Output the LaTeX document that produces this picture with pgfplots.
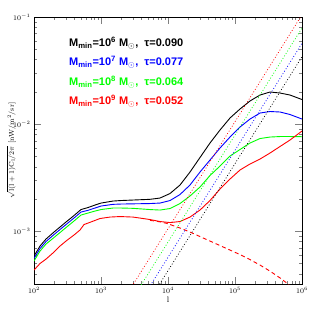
\documentclass[border=0pt]{standalone}
\usepackage{pgfplots}
\pgfplotsset{compat=1.18}
\usepackage{fontspec}
\newfontfamily\legfont{Liberation Sans}
\begin{document}
\begin{tikzpicture}
\begin{axis}[
 at={(0,0)}, anchor=south west,
 scale only axis, width=268pt, height=267pt,
 xmode=log, ymode=log,
 xmin=100, xmax=1e6, ymin=3.2e-4, ymax=0.1,
 xtick={1e2,1e3,1e4,1e5,1e6},
 ytick={1e-4,1e-3,1e-2,1e-1},
 xtick pos=both, ytick pos=both,
 tick align=inside,
 major tick length=7pt, minor tick length=3.5pt,
 tick label style={font=\scriptsize},
 xlabel={$\mathrm{l}$}, ylabel={$\sqrt{\vphantom{l}\smash{\mathrm{l(l+1)C_l/2\pi}}}$ [nW/m$^2$/sr]},
 label style={font=\footnotesize},
 ylabel style={at={(axis description cs:-0.068,0.5)}, anchor=south, font=\scriptsize, inner sep=0pt},
 xlabel style={at={(axis description cs:0.5,-0.035)}, anchor=north},
 every axis plot/.append style={line width=0.9pt},
]
% black
\addplot[black] coordinates {(100,5.84e-4)(122.9,7.24e-4)(151.1,8.42e-4)(198.9,9.79e-4)(244.4,1.090e-3)(300.3,1.214e-3)(395.4,1.396e-3)(502.9,1.588e-3)(639.7,1.658e-3)(813.8,1.750e-3)(1000,1.826e-3)(1510.7,1.907e-3)(1989,1.928e-3)(3003,1.949e-3)(5386,1.979e-3)(7596,2.034e-3)(10712,2.241e-3)(15107,2.691e-3)(21300,3.559e-3)(30035,4.863e-3)(42356,6.644e-3)(59730,8.787e-3)(84230,1.138e-2)(118740,1.381e-2)(167490,1.641e-2)(236160,1.866e-2)(333020,1.991e-2)(469560,1.949e-2)(662100,1.866e-2)(1e6,1.694e-2)};
% blue
\addplot[blue] coordinates {(100,5.53e-4)(122.9,6.86e-4)(151.1,7.98e-4)(198.9,9.27e-4)(244.4,1.033e-3)(300.3,1.150e-3)(395.4,1.323e-3)(502.9,1.505e-3)(639.7,1.561e-3)(813.8,1.641e-3)(1000,1.713e-3)(1510.7,1.776e-3)(1989,1.788e-3)(3003,1.796e-3)(5386,1.807e-3)(7596,1.826e-3)(10712,1.928e-3)(15107,2.194e-3)(21300,2.691e-3)(30035,3.559e-3)(42356,4.608e-3)(59730,5.968e-3)(84230,7.557e-3)(118740,9.376e-3)(167490,1.113e-2)(236160,1.267e-2)(333020,1.309e-2)(469560,1.295e-2)(662100,1.227e-2)(1e6,1.113e-2)};
% green
\addplot[green] coordinates {(100,5.24e-4)(122.9,6.50e-4)(151.1,7.56e-4)(198.9,8.70e-4)(244.4,9.68e-4)(300.3,1.078e-3)(395.4,1.240e-3)(502.9,1.411e-3)(639.7,1.473e-3)(813.8,1.538e-3)(1000,1.588e-3)(1510.7,1.641e-3)(1989,1.641e-3)(3003,1.630e-3)(5386,1.588e-3)(7596,1.571e-3)(10712,1.623e-3)(15107,1.807e-3)(21300,2.124e-3)(30035,2.578e-3)(42356,3.302e-3)(59730,4.050e-3)(84230,5.022e-3)(118740,5.777e-3)(167490,6.644e-3)(236160,7.318e-3)(333020,7.557e-3)(469560,7.640e-3)(662100,7.640e-3)(1e6,7.61e-3)};
% red
\addplot[red] coordinates {(100,4.32e-4)(122.9,4.97e-4)(151.1,5.47e-4)(198.9,6.36e-4)(244.4,7.24e-4)(300.3,8.06e-4)(395.4,9.18e-4)(485.9,1.022e-3)(557.6,1.150e-3)(685.1,1.206e-3)(966.3,1.309e-3)(1362.7,1.351e-3)(1921,1.366e-3)(3003,1.351e-3)(5386,1.281e-3)(7596,1.227e-3)(10712,1.200e-3)(15107,1.227e-3)(21300,1.351e-3)(30035,1.571e-3)(42356,1.928e-3)(59730,2.469e-3)(84230,3.062e-3)(118740,3.717e-3)(167490,4.229e-3)(236160,4.709e-3)(333020,5.358e-3)(469560,6.163e-3)(662100,7.088e-3)(1e6,8.602e-3)};
% red dashed
\addplot[red, dash pattern=on 4pt off 3pt] coordinates {(5386,1.259e-3)(7596,1.219e-3)(9563,1.180e-3)(15107,1.067e-3)(21300,9.79e-4)(30035,8.88e-4)(42356,8.06e-4)(59730,7.32e-4)(84230,6.64e-4)(118740,6.03e-4)(167490,5.41e-4)(236160,4.81e-4)(333020,4.22e-4)(469560,3.65e-4)(639700,3.15e-4)};
% dotted shot-noise lines
\addplot[red, dotted, line width=0.7pt] coordinates {(2000,2.10e-4)(1e6,0.105)};
\addplot[green, dotted, line width=0.7pt] coordinates {(2000,1.578e-4)(1e6,0.0789)};
\addplot[blue, dotted, line width=0.7pt] coordinates {(2000,1.136e-4)(1e6,0.0568)};
\addplot[black, dotted, line width=0.7pt] coordinates {(2000,8.52e-5)(1e6,0.0426)};
\end{axis}
\begin{scope}[every node/.style={anchor=west, inner sep=0pt, font=\legfont\bfseries\fontsize{11}{13}\selectfont}]
\node[text=black] at (35pt,241pt) {M\textsubscript{min}=10\textsuperscript{6} M$_\odot$, \ τ=0.090};
\node[text=blue] at (35pt,222pt) {M\textsubscript{min}=10\textsuperscript{7} M$_\odot$, \ τ=0.077};
\node[text=green] at (35pt,202pt) {M\textsubscript{min}=10\textsuperscript{8} M$_\odot$, \ τ=0.064};
\node[text=red] at (35pt,183pt) {M\textsubscript{min}=10\textsuperscript{9} M$_\odot$, \ τ=0.052};
\end{scope}
\pgfresetboundingbox
\path[use as bounding box] (-34pt,-35pt) rectangle (285pt,284pt);
\end{tikzpicture}
\end{document}
